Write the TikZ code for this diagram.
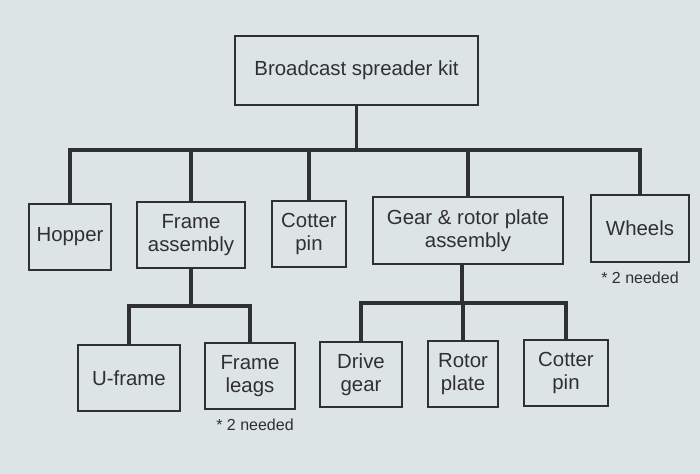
\documentclass[tikz,border=0pt]{standalone}
\usepackage{fontspec}
\setmainfont{Liberation Sans}
\definecolor{bg}{HTML}{DDE4E5}
\definecolor{ink}{HTML}{303030}
\begin{document}
\begin{tikzpicture}[x=0.75pt,y=-0.75pt,
  box/.style={draw=ink,line width=1.6pt,fill=bg,inner sep=0pt,align=center,text=ink,
    font=\fontsize{15.3}{17}\selectfont},
  note/.style={text=ink,inner sep=0pt,font=\fontsize{12}{14}\selectfont},
  conn/.style={draw=ink,line width=2.3pt,line cap=rect}]
\fill[bg] (0,0) rectangle (700,474);
\useasboundingbox (0,0) rectangle (700,474);
% level 1
\node[box,minimum width=243*0.75pt,minimum height=69*0.75pt] (top) at (356.5,70.5) {Broadcast spreader kit};
% level 2
\node[box,minimum width=82*0.75pt,minimum height=66*0.75pt] (hop) at (70,237) {Hopper};
\node[box,minimum width=108*0.75pt,minimum height=66*0.75pt] (fra) at (191,235) {Frame\\assembly};
\node[box,minimum width=74*0.75pt,minimum height=66*0.75pt] (cot1) at (309,234) {Cotter\\pin};
\node[box,minimum width=190*0.75pt,minimum height=67*0.75pt] (gear) at (468,230.5) {Gear \& rotor plate\\assembly};
\node[box,minimum width=98*0.75pt,minimum height=67*0.75pt] (whe) at (640,228.5) {Wheels};
\node[note] (note1) at (640,278) {* 2 needed};
% level 3
\node[box,minimum width=102*0.75pt,minimum height=66*0.75pt] (ufr) at (129,378) {U-frame};
\node[box,minimum width=90*0.75pt,minimum height=66*0.75pt] (leg) at (250,376) {Frame\\leags};
\node[note] (note2) at (255,425) {* 2 needed};
\node[box,minimum width=82*0.75pt,minimum height=65*0.75pt] (drv) at (361,374.5) {Drive\\gear};
\node[box,minimum width=70*0.75pt,minimum height=66*0.75pt] (rot) at (463,374) {Rotor\\plate};
\node[box,minimum width=84*0.75pt,minimum height=66*0.75pt] (cot2) at (566,373) {Cotter\\pin};
% connectors level 1 -> 2
\coordinate (busA) at (0,150);
\draw[conn] (top.south) -- (top.south |- busA);
\draw[conn] (hop.north |- busA) -- (whe.north |- busA);
\foreach \n in {hop,fra,cot1,gear,whe}
  \draw[conn] (\n.north) -- (\n.north |- busA);
% frame assembly -> children
\coordinate (busB) at (0,306);
\draw[conn] (fra.south) -- (fra.south |- busB);
\draw[conn] (ufr.north |- busB) -- (leg.north |- busB);
\foreach \n in {ufr,leg}
  \draw[conn] (\n.north) -- (\n.north |- busB);
% gear assembly -> children
\coordinate (busC) at (0,303);
\coordinate (gdrop) at ([xshift=-4.5pt]gear.south);
\draw[conn] (gdrop) -- (gdrop |- busC);
\draw[conn] (drv.north |- busC) -- (cot2.north |- busC);
\foreach \n in {drv,rot,cot2}
  \draw[conn] (\n.north) -- (\n.north |- busC);
\end{tikzpicture}
\end{document}
